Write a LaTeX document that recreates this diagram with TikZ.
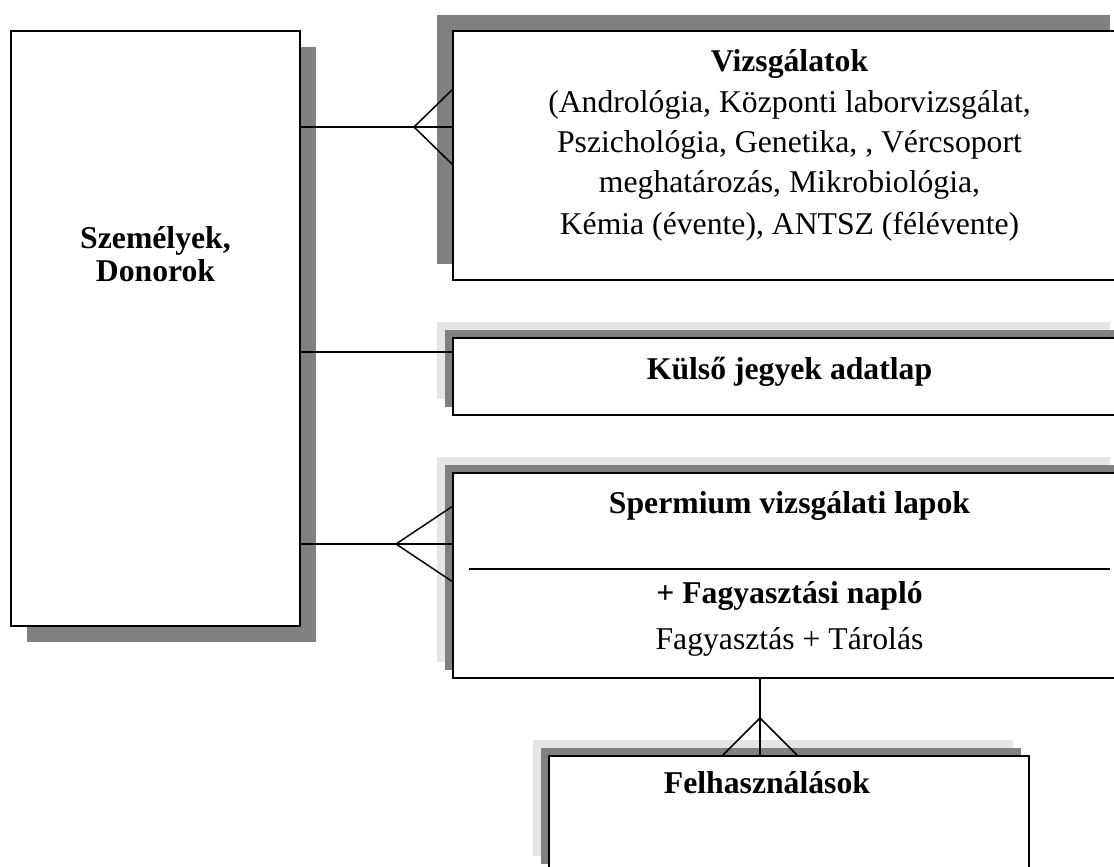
\documentclass[tikz,border=0pt]{standalone}
\usepackage{fontspec}
\setmainfont{Liberation Serif}
\usetikzlibrary{shadows}
\definecolor{shdark}{HTML}{808080}
\definecolor{shlight}{HTML}{E5E5E5}
\tikzset{
  entity/.style={rectangle, draw=black, line width=2pt, fill=white, inner sep=0pt, outer sep=0pt},
  shadowSE/.style={general shadow={fill=shdark, shadow xshift=16pt, shadow yshift=-16pt}},
  shadowNW/.style={general shadow={fill=shdark, shadow xshift=-16pt, shadow yshift=16pt}},
  shadowNWtwo/.style={general shadow={fill=shlight, shadow xshift=-16pt, shadow yshift=16pt},
                      general shadow={fill=shdark, shadow xshift=-8pt, shadow yshift=8pt}},
  conn/.style={draw=black, line width=1.5pt},
  divider/.style={draw=black, line width=2pt},
  lbl/.style={anchor=base, inner sep=0pt, font=\fontsize{31.7}{38}\selectfont},
  blbl/.style={anchor=base, inner sep=0pt, font=\fontsize{31.7}{38}\selectfont\bfseries},
}
\begin{document}
\begin{tikzpicture}[x=1pt, y=-1pt]
\useasboundingbox (0,0) rectangle (1114,867);
\clip (0,0) rectangle (1114,867);

% entities
\node[entity, shadowSE, minimum width=289pt, minimum height=595pt] (szem) at (155.5,328.5) {};
\node[entity, shadowNW, minimum width=673pt, minimum height=249pt] (viz) at (789.5,155.5) {};
\node[entity, shadowNWtwo, minimum width=673pt, minimum height=77pt] (kulso) at (789.5,376.5) {};
\node[entity, shadowNWtwo, minimum width=673pt, minimum height=205pt] (sperm) at (789.5,575.5) {};
\node[entity, shadowNWtwo, minimum width=480pt, minimum height=116pt] (felh) at (789,814) {};

% texts
\node[blbl] (szt1) at (155.5,248) {Személyek,};
\node[blbl] (szt2) at (155.5,281) {Donorok};

\node[blbl] (vzt) at (789.5,71) {Vizsgálatok};
\node[lbl] (vz1) at (789.5,112) {(Andrológia, Központi laborvizsgálat,};
\node[lbl] (vz2) at (789.5,152) {Pszichológia, Genetika, , Vércsoport};
\node[lbl] (vz3) at (789.5,192) {meghatározás, Mikrobiológia,};
\node[lbl] (vz4) at (789.5,234) {Kémia (évente), ANTSZ (félévente)};

\node[blbl] (kt) at (789.5,379) {Külső jegyek adatlap};

\node[blbl] (st) at (789.5,513) {Spermium vizsgálati lapok};
\draw[divider] ([xshift=16pt]sperm.west |- 0,569) -- ([xshift=-16pt]sperm.east |- 0,569);
\node[blbl] (sf) at (789.5,603) {+ Fagyasztási napló};
\node[lbl] (sft) at (789.5,649) {Fagyasztás + Tárolás};

\node[blbl] (ft) at (767,793) {Felhasználások};

% connectors
\draw[conn] (szem.east |- 0,127) -- (viz.west |- 0,127);
\draw[conn] (viz.west |- 0,89) -- (414,127) -- (viz.west |- 0,165);

\draw[conn] (szem.east |- 0,352) -- (kulso.west |- 0,352);

\draw[conn] (szem.east |- 0,544) -- (sperm.west |- 0,544);
\draw[conn] (sperm.west |- 0,506) -- (396,544) -- (sperm.west |- 0,582);

\draw[conn] (sperm.south -| 760,0) -- (felh.north -| 760,0);
\draw[conn] (felh.north -| 722,0) -- (760,718) -- (felh.north -| 798,0);
\end{tikzpicture}
\end{document}
